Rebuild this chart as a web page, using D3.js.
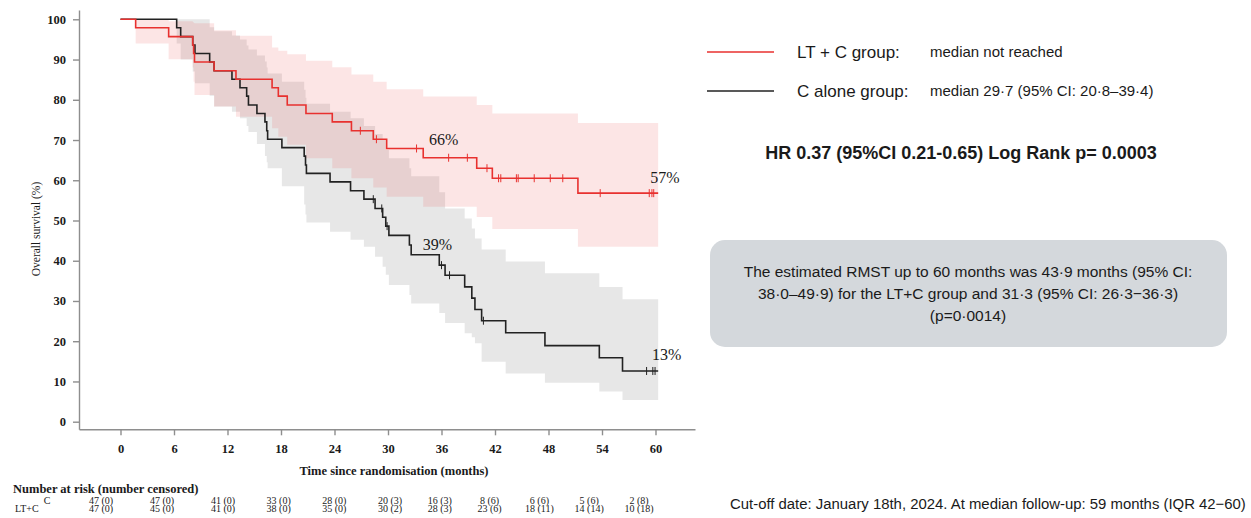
<!DOCTYPE html>
<html>
<head>
<meta charset="utf-8">
<script src="https://cdn.jsdelivr.net/npm/d3@7"></script>
<style>
body { margin: 0; background: #fff; }
text { fill: #1a1a1a; }
.serif { font-family: "Liberation Serif", "Times New Roman", serif; }
.sans { font-family: "Liberation Sans", Arial, sans-serif; }
</style>
</head>
<body>
<svg id="chart" width="1251" height="518"></svg>
<script>
// axis ticks
const timeTicks = [0, 6, 12, 18, 24, 30, 36, 42, 48, 54, 60];
const yTicks = [0, 10, 20, 30, 40, 50, 60, 70, 80, 90, 100];
const endTime = 60.3;

// LT + C group (red)
const ltcTimes = [0, 1.7, 5.4, 8.1, 8.2, 8.3, 10.5, 12.95, 17.0, 17.7, 18.7, 20.8, 23.75, 25.9, 28.35, 29.85, 33.95, 39.95, 41.7, 51.3];
const ltcSurv  = [100, 97.9, 95.7, 93.6, 91.5, 89.4, 87.2, 85.1, 83.0, 80.9, 78.7, 76.6, 74.5, 72.3, 70.2, 67.9, 65.6, 63.0, 60.5, 56.8];
const ltcLower = [100, 94.0, 90.1, 88.0, 84.5, 81.2, 78.3, 75.8, 72.9, 70.8, 68.8, 65.5, 63.0, 60.5, 58.2, 55.9, 53.4, 50.9, 47.9, 43.5];
const ltcUpper = [100, 100, 99.5, 99.3, 99.1, 99.0, 97.3, 95.9, 93.0, 92.2, 91.3, 89.7, 88.1, 86.3, 84.5, 82.6, 80.8, 78.7, 76.6, 74.2];
const ltcCensor = [26.9, 28.7, 33.2, 36.8, 38.9, 41.1, 42.4, 42.65, 44.4, 44.6, 46.4, 48.2, 49.6, 53.8, 59.3, 59.6, 59.8];

// C alone group (black)
const cTimes = [0, 6.3, 6.75, 8.1, 8.35, 10.0, 10.5, 12.5, 13.4, 14.15, 14.35, 15.3, 16.2, 16.4, 16.5, 18.1, 20.6, 20.75, 20.85, 23.5, 25.8, 27.3, 28.55, 29.4, 29.75, 30.1, 32.4, 32.6, 35.75, 36.4, 38.6, 39.4, 39.75, 40.5, 43.2, 47.6, 53.7, 56.3];
const cSurv  = [100, 97.9, 95.7, 93.6, 91.5, 89.4, 87.2, 85.1, 83.0, 80.9, 78.7, 76.6, 74.5, 72.3, 70.2, 68.1, 66.0, 63.8, 61.7, 59.6, 57.4, 55.3, 53.0, 50.8, 48.6, 46.3, 43.9, 41.5, 38.9, 36.4, 33.5, 30.7, 27.9, 25.1, 22.1, 18.9, 15.9, 12.6];
const cLower = [100, 94.0, 90.0, 87.0, 84.1, 81.0, 78.3, 77.0, 75.4, 73.5, 72.0, 69.0, 66.0, 64.5, 63.0, 58.5, 54.0, 51.5, 49.5, 47.2, 45.2, 43.5, 41.0, 38.5, 36.5, 34.0, 31.5, 29.4, 27.0, 24.5, 22.0, 21.0, 19.5, 14.9, 12.0, 9.7, 7.5, 5.4];
const cUpper = [100, 100, 100, 100, 100, 98.0, 97.0, 96.0, 95.0, 93.5, 92.5, 91.0, 89.5, 88.0, 86.5, 84.5, 82.5, 80.5, 79.0, 77.0, 75.4, 73.5, 71.5, 70.0, 67.5, 65.5, 63.0, 61.0, 57.0, 53.0, 50.5, 48.0, 45.5, 42.8, 39.8, 36.9, 33.5, 30.4];
const cCensor = [28.35, 29.3, 29.9, 36.0, 36.9, 40.7, 59.0, 59.7, 59.95];

// number at risk (number censored)
const riskC   = ["47 (0)", "47 (0)", "41 (0)", "33 (0)", "28 (0)", "20 (3)", "16 (3)", "8 (6)", "6 (6)", "5 (6)", "2 (8)"];
const riskLTC = ["47 (0)", "45 (0)", "41 (0)", "38 (0)", "35 (0)", "30 (2)", "28 (3)", "23 (6)", "18 (11)", "14 (14)", "10 (18)"];

const red = "#e8312f";
const dark = "#222222";
const axisGrey = "#8e8e8e";

const svg = d3.select("#chart");
const x = d3.scaleLinear().domain([0, 60]).range([120.5, 655.5]);
const y = d3.scaleLinear().domain([0, 100]).range([421.7, 19.3]);

function steps(times, vals, lo, hi) {
    const d = times.map((t, i) => ({t: t, s: vals[i], lo: lo[i], hi: hi[i]}));
    const last = d[d.length - 1];
    d.push({t: endTime, s: last.s, lo: last.lo, hi: last.hi});
    return d;
}
const ltc = steps(ltcTimes, ltcSurv, ltcLower, ltcUpper);
const ctl = steps(cTimes, cSurv, cLower, cUpper);

const band = d3.area().curve(d3.curveStepAfter)
    .x(d => x(d.t)).y0(d => y(d.lo)).y1(d => y(d.hi));
const km = d3.line().curve(d3.curveStepAfter)
    .x(d => x(d.t)).y(d => y(d.s));

svg.append("path").datum(ctl).attr("d", band)
    .attr("fill", "#c4c4c4").attr("fill-opacity", 0.4);
svg.append("path").datum(ltc).attr("d", band)
    .attr("fill", "#ec3a3a").attr("fill-opacity", 0.135);

// axes
const xAxisScale = x.copy().domain([x.invert(79), x.invert(695)]).range([79, 695]);
const yAxisScale = y.copy().domain([y.invert(429.3), y.invert(10)]).range([429.3, 10]);

const gx = svg.append("g").attr("transform", "translate(0,429.3)")
    .call(d3.axisBottom(xAxisScale).tickValues(timeTicks).tickSize(6).tickSizeOuter(0));
gx.selectAll("text").attr("dy", null).attr("y", 24)
    .attr("class", "serif").style("font-size", "12.5px").style("font-weight", "bold");

const gy = svg.append("g").attr("transform", "translate(79,0)")
    .call(d3.axisLeft(yAxisScale).tickValues(yTicks).tickSize(6).tickSizeOuter(0).tickPadding(7));
gy.selectAll("text")
    .attr("class", "serif").style("font-size", "12.5px").style("font-weight", "bold");

[gx, gy].forEach(g => {
    g.selectAll(".domain, .tick line").attr("stroke", axisGrey).attr("stroke-width", 1.4);
    g.selectAll("text").attr("fill", "#1a1a1a");
});

// survival curves
function drawGroup(data, times, vals, censor, colour) {
    svg.append("path").datum(data).attr("d", km)
        .attr("fill", "none").attr("stroke", colour).attr("stroke-width", 1.6);
    svg.append("g").selectAll("line").data(censor).join("line")
        .attr("x1", d => x(d)).attr("x2", d => x(d))
        .attr("y1", d => y(vals[d3.bisectRight(times, d) - 1]) - 4)
        .attr("y2", d => y(vals[d3.bisectRight(times, d) - 1]) + 4)
        .attr("stroke", colour).attr("stroke-width", 1);
}
drawGroup(ctl, cTimes, cSurv, cCensor, dark);
drawGroup(ltc, ltcTimes, ltcSurv, ltcCensor, red);

// percentage labels
const pctLabels = [
    {t: 34.6, s: 68.7, txt: "66%"},
    {t: 59.4, s: 59.3, txt: "57%"},
    {t: 33.9, s: 42.6, txt: "39%"},
    {t: 59.6, s: 15.4, txt: "13%"}
];
svg.append("g").selectAll("text").data(pctLabels).join("text")
    .attr("class", "serif")
    .attr("x", d => x(d.t)).attr("y", d => y(d.s))
    .style("font-size", "16px")
    .text(d => d.txt);

// axis titles
svg.append("text").attr("class", "serif")
    .attr("transform", "translate(40,229) rotate(-90)")
    .attr("text-anchor", "middle").style("font-size", "11.5px")
    .text("Overall survival (%)");
svg.append("text").attr("class", "serif")
    .attr("x", 394).attr("y", 475).attr("text-anchor", "middle")
    .style("font-size", "12.5px").style("font-weight", "bold")
    .text("Time since randomisation (months)");

// number at risk table
const riskX = d3.scaleLinear().domain([0, 12, 30, 60]).range([101, 223, 390, 639]);
svg.append("text").attr("class", "serif")
    .attr("x", 13).attr("y", 493)
    .style("font-size", "12.5px").style("font-weight", "bold")
    .text("Number at risk (number censored)");
svg.append("text").attr("class", "serif").attr("x", 47).attr("y", 503.5)
    .attr("text-anchor", "middle").style("font-size", "10px").text("C");
svg.append("text").attr("class", "serif").attr("x", 15).attr("y", 512)
    .style("font-size", "10px").text("LT+C");
[[riskC, 503.5], [riskLTC, 512]].forEach(([row, yy]) => {
    svg.append("g").selectAll("text").data(row).join("text")
        .attr("class", "serif")
        .attr("x", (d, i) => riskX(timeTicks[i])).attr("y", yy)
        .attr("text-anchor", "middle").style("font-size", "10px")
        .text(d => d);
});

// legend
const defs = svg.append("defs");
defs.append("filter").attr("id", "shadow").attr("x", "-10%").attr("y", "-200%")
    .attr("width", "120%").attr("height", "500%")
    .append("feGaussianBlur").attr("stdDeviation", 1.2);

const legend = [
    {y: 52, colour: red, name: "LT + C group:", note: "median not reached"},
    {y: 91, colour: dark, name: "C alone group:", note: "median 29·7 (95% CI: 20·8–39·4)"}
];
const lg = svg.append("g").selectAll("g").data(legend).join("g");
lg.append("line").attr("x1", 708).attr("x2", 774)
    .attr("y1", d => d.y + 3).attr("y2", d => d.y + 3)
    .attr("stroke", "#999").attr("stroke-width", 2).attr("filter", "url(#shadow)");
lg.append("line").attr("x1", 707).attr("x2", 774)
    .attr("y1", d => d.y).attr("y2", d => d.y)
    .attr("stroke", d => d.colour).attr("stroke-width", 1.6);
lg.append("text").attr("class", "sans")
    .attr("x", 797).attr("y", d => d.y + 6)
    .style("font-size", "17px").text(d => d.name);
lg.append("text").attr("class", "sans")
    .attr("x", 930).attr("y", d => d.y + 5)
    .style("font-size", "15px").text(d => d.note);

svg.append("text").attr("class", "sans")
    .attr("x", 961).attr("y", 159).attr("text-anchor", "middle")
    .style("font-size", "18px").style("font-weight", "bold")
    .text("HR 0.37 (95%CI 0.21-0.65) Log Rank p= 0.0003");

// RMST box
svg.append("rect").attr("x", 710).attr("y", 240).attr("width", 517).attr("height", 107)
    .attr("rx", 15).attr("fill", "#d4d8dc");
const rmstLines = [
    "The estimated RMST up to 60 months was 43·9 months (95% CI:",
    "38·0–49·9) for the LT+C group and 31·3 (95% CI: 26·3−36·3)",
    "(p=0·0014)"
];
svg.append("g").selectAll("text").data(rmstLines).join("text")
    .attr("class", "sans")
    .attr("x", 968).attr("y", (d, i) => 277 + i * 22)
    .attr("text-anchor", "middle").style("font-size", "15.5px")
    .text(d => d);

svg.append("text").attr("class", "sans")
    .attr("x", 730).attr("y", 509)
    .style("font-size", "14.9px")
    .text("Cut-off date: January 18th, 2024. At median follow-up: 59 months (IQR 42−60)");
</script>
</body>
</html>
